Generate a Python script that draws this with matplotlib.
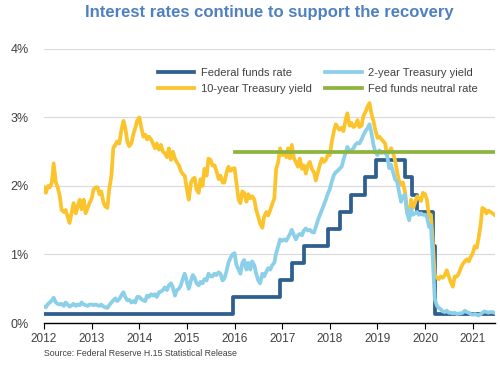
import numpy as np
import pandas as pd
import matplotlib
matplotlib.use('Agg')
import matplotlib.pyplot as plt
import matplotlib.dates as mdates

plt.rcParams['font.family'] = ['Liberation Sans', 'DejaVu Sans']

# semi-monthly readings (1st and 15th of each month), Jan 2012 - mid Jun 2021
dates = pd.date_range('2012-01-01', '2021-06-15', freq='SMS')

ten_year = [
    1.98, 1.90, 2.00, 1.98, 2.05, 2.33, 2.05, 1.98, 1.85, 1.65, 1.62, 1.65,
    1.55, 1.46, 1.62, 1.75, 1.60, 1.70, 1.80, 1.66, 1.80, 1.60, 1.68, 1.75,  # 2012
    1.82, 1.95, 1.98, 1.98, 1.88, 1.92, 1.76, 1.70, 1.68, 1.95, 2.15, 2.55,
    2.60, 2.65, 2.62, 2.80, 2.95, 2.85, 2.65, 2.58, 2.62, 2.75, 2.85, 2.95,  # 2013
    3.00, 2.86, 2.72, 2.75, 2.68, 2.72, 2.68, 2.62, 2.55, 2.62, 2.53, 2.60,
    2.50, 2.48, 2.42, 2.55, 2.38, 2.50, 2.40, 2.35, 2.30, 2.22, 2.17, 2.15,  # 2014
    1.95, 1.80, 2.05, 2.10, 2.12, 1.95, 1.90, 2.10, 2.00, 2.25, 2.15, 2.40,
    2.38, 2.30, 2.30, 2.22, 2.10, 2.15, 2.05, 2.05, 2.20, 2.28, 2.22, 2.25,  # 2015
    2.26, 2.05, 1.80, 1.75, 1.92, 1.90, 1.77, 1.88, 1.82, 1.85, 1.80, 1.65,
    1.55, 1.45, 1.39, 1.55, 1.62, 1.57, 1.65, 1.73, 1.82, 2.25, 2.35, 2.55,  # 2016
    2.45, 2.48, 2.42, 2.55, 2.40, 2.60, 2.40, 2.35, 2.28, 2.40, 2.25, 2.30,
    2.18, 2.30, 2.35, 2.25, 2.20, 2.08, 2.20, 2.30, 2.40, 2.35, 2.38, 2.45,  # 2017
    2.45, 2.64, 2.80, 2.90, 2.86, 2.82, 2.85, 2.80, 2.96, 3.06, 2.88, 2.92,
    2.86, 2.88, 2.96, 2.86, 2.88, 3.02, 3.08, 3.15, 3.21, 3.06, 2.95, 2.82,  # 2018
    2.70, 2.72, 2.68, 2.65, 2.62, 2.45, 2.50, 2.55, 2.48, 2.38, 2.20, 2.08,
    2.02, 2.05, 1.90, 1.62, 1.55, 1.80, 1.68, 1.75, 1.85, 1.82, 1.78, 1.90,  # 2019
    1.88, 1.80, 1.55, 1.58, 1.15, 0.70, 0.66, 0.64, 0.68, 0.66, 0.70, 0.77,
    0.68, 0.60, 0.53, 0.68, 0.68, 0.72, 0.80, 0.86, 0.90, 0.93, 0.90, 0.96,  # 2020
    1.02, 1.12, 1.10, 1.25, 1.42, 1.68, 1.66, 1.60, 1.64, 1.62, 1.60, 1.58,  # 2021
]

two_year = [
    0.24, 0.23, 0.28, 0.30, 0.33, 0.37, 0.30, 0.28, 0.27, 0.28, 0.25, 0.30,
    0.27, 0.24, 0.26, 0.28, 0.25, 0.27, 0.26, 0.30, 0.27, 0.26, 0.25, 0.27,  # 2012
    0.27, 0.26, 0.27, 0.26, 0.25, 0.27, 0.24, 0.23, 0.22, 0.26, 0.30, 0.33,
    0.36, 0.32, 0.35, 0.40, 0.45, 0.38, 0.33, 0.34, 0.30, 0.32, 0.30, 0.38,  # 2013
    0.38, 0.35, 0.33, 0.32, 0.40, 0.38, 0.42, 0.40, 0.42, 0.38, 0.45, 0.46,
    0.48, 0.52, 0.48, 0.55, 0.58, 0.52, 0.40, 0.48, 0.50, 0.55, 0.65, 0.72,  # 2014
    0.60, 0.50, 0.62, 0.70, 0.66, 0.58, 0.55, 0.60, 0.58, 0.64, 0.62, 0.72,
    0.68, 0.68, 0.72, 0.70, 0.74, 0.72, 0.62, 0.65, 0.76, 0.88, 0.95, 1.00,  # 2015
    1.02, 0.85, 0.78, 0.72, 0.88, 0.92, 0.78, 0.88, 0.78, 0.90, 0.84, 0.72,
    0.62, 0.58, 0.72, 0.68, 0.75, 0.80, 0.78, 0.84, 0.88, 1.02, 1.12, 1.22,  # 2016
    1.20, 1.22, 1.20, 1.25, 1.30, 1.36, 1.28, 1.22, 1.28, 1.30, 1.28, 1.35,
    1.38, 1.35, 1.36, 1.33, 1.32, 1.40, 1.50, 1.57, 1.65, 1.72, 1.80, 1.88,  # 2017
    1.96, 2.06, 2.16, 2.20, 2.22, 2.25, 2.28, 2.38, 2.48, 2.57, 2.50, 2.52,
    2.55, 2.60, 2.63, 2.62, 2.68, 2.74, 2.80, 2.84, 2.90, 2.78, 2.60, 2.50,  # 2018
    2.45, 2.52, 2.48, 2.50, 2.48, 2.45, 2.26, 2.31, 2.20, 2.10, 2.06, 1.92,
    1.77, 1.85, 1.87, 1.62, 1.50, 1.66, 1.58, 1.60, 1.62, 1.58, 1.60, 1.58,  # 2019
    1.58, 1.55, 1.40, 1.42, 0.90, 0.35, 0.25, 0.22, 0.20, 0.17, 0.16, 0.18,
    0.15, 0.15, 0.14, 0.15, 0.13, 0.14, 0.14, 0.15, 0.18, 0.16, 0.15, 0.13,  # 2020
    0.12, 0.13, 0.12, 0.11, 0.13, 0.15, 0.17, 0.16, 0.15, 0.16, 0.16, 0.15,  # 2021
]

# fed funds target range midpoint, value in effect from each date
ff_dates = ['2012-01-01', '2015-12-17', '2016-12-15', '2017-03-16', '2017-06-15',
            '2017-12-14', '2018-03-22', '2018-06-14', '2018-09-27', '2018-12-20',
            '2019-08-01', '2019-09-19', '2019-10-31', '2020-03-04', '2020-03-16',
            '2021-06-15']
ff_rate = [0.125, 0.375, 0.625, 0.875, 1.125, 1.375, 1.625, 1.875, 2.125, 2.375,
           2.125, 1.875, 1.625, 1.125, 0.125, 0.125]

neutral_dates = ['2016-01-01', '2021-06-15']
neutral_rate = [2.5, 2.5]

c_ff = '#2f5f8f'
c_2y = '#8ccfe8'
c_10y = '#fcc42c'
c_neu = '#8db43e'
txt = '#404040'

fig = plt.figure(figsize=(5, 3.65), dpi=100)
ax = fig.add_axes([0.088, 0.115, 0.902, 0.751])

lw = 2.7
ax.plot(pd.to_datetime(ff_dates), ff_rate, color=c_ff, lw=lw,
        drawstyle='steps-post', label='Federal funds rate')
ax.plot(dates, ten_year, color=c_10y, lw=lw, label='10-year Treasury yield')
ax.plot(dates, two_year, color=c_2y, lw=lw, label='2-year Treasury yield')
ax.plot(pd.to_datetime(neutral_dates), neutral_rate, color=c_neu, lw=lw,
        label='Fed funds neutral rate')

ax.set_ylim(0, 4)
ax.set_yticks([0, 1, 2, 3, 4])
ax.set_yticklabels(['0%', '1%', '2%', '3%', '4%'])
ax.set_xlim(pd.Timestamp('2012-01-01'), pd.Timestamp('2021-06-20'))
ax.xaxis.set_major_locator(mdates.YearLocator())
ax.xaxis.set_major_formatter(mdates.DateFormatter('%Y'))

ax.grid(axis='y', color='#d9d9d9', lw=0.8)
ax.set_axisbelow(True)
for s in ['top', 'right', 'left']:
    ax.spines[s].set_visible(False)
ax.spines['bottom'].set_color('black')
ax.spines['bottom'].set_linewidth(1.0)
ax.tick_params(axis='y', length=0, labelsize=9, labelcolor=txt, pad=11)
ax.tick_params(axis='x', length=4, direction='out', labelsize=8.5, labelcolor=txt,
               color='black', pad=3)

fig.text(0.538, 0.965, 'Interest rates continue to support the recovery',
         ha='center', va='center', fontsize=12, fontweight='bold', color='#4f81c1')
fig.text(0.088, 0.032, 'Source: Federal Reserve H.15 Statistical Release',
         ha='left', va='center', fontsize=6.3, color=txt)

ax.legend(ncol=2, loc='upper left', bbox_to_anchor=(0.295, 0.842),
          bbox_transform=fig.transFigure, frameon=False, fontsize=8,
          handlelength=3.3, handletextpad=0.6, columnspacing=1.2,
          labelspacing=0.55, labelcolor=txt)

fig.savefig('out.png', dpi=100)
